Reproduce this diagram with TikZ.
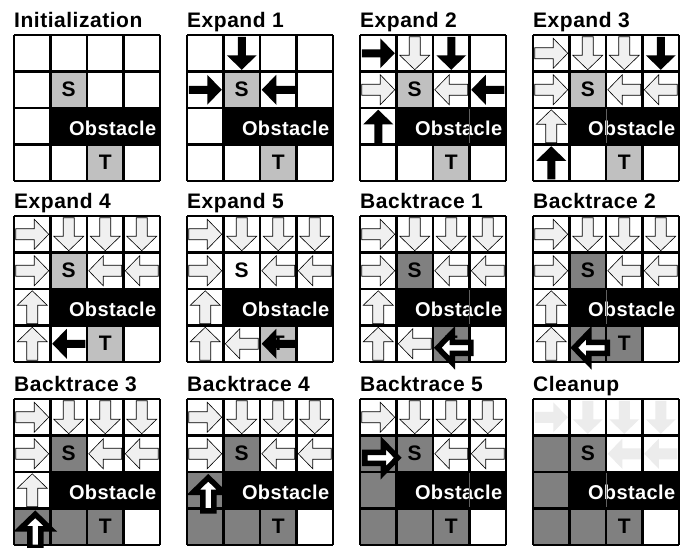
\documentclass[tikz,border=0pt]{standalone}
\usepackage{fontspec}
\setmainfont{Liberation Sans}
\newfontfamily\GTitleFont[LetterSpace=2.5]{Liberation Sans}
\newfontfamily\GObsFont[LetterSpace=2]{Liberation Sans}
\definecolor{lgray}{HTML}{C0C0C0}
\definecolor{dgray}{HTML}{808080}
\definecolor{afill}{HTML}{F0F0F0}
\definecolor{fadefill}{HTML}{ECECEC}
\definecolor{seamgray}{HTML}{606060}
\def\GSz{36.5}
\tikzset{
  gridline/.style={draw=black, line width=2.5pt},
  lightarr/.style={fill=afill, draw=black, line width=0.6pt, line join=miter},
  blackarr/.style={fill=black},
  boldarr/.style={shift={(3,4)}, fill=white, draw=black, line width=5.5pt, line join=miter},
  fadearr/.style={fill=fadefill},
  titletext/.style={anchor=base west, inner sep=0pt, font={\GTitleFont\bfseries\fontsize{21}{25}\selectfont}},
  celltext/.style={inner sep=0pt, font={\bfseries\fontsize{21}{25}\selectfont}},
  obstext/.style={anchor=base east, inner sep=0pt, text=white, font={\GObsFont\bfseries\fontsize{20}{24}\selectfont}}
}
% fill a cell: row, column, colour
\newcommand\GFill[3]{\fill[#3] ({(#2-1)*\GSz},{(#1-1)*\GSz}) rectangle ++(\GSz,\GSz);}
% outlined / light arrow in a cell: row, column, angle, style
\newcommand\GArr[4]{\path[#4,shift={({(#2-0.5)*\GSz},{(#1-0.5)*\GSz})},rotate=#3]
  (-16.5,-5.5) -- (2,-5.5) -- (2,-15) -- (16.5,0) -- (2,15) -- (2,5.5) -- (-16.5,5.5) -- cycle;}
% solid black arrow (thinner shaft): row, column, angle
\newcommand\GArrK[3]{\path[blackarr,shift={({(#2-0.5)*\GSz},{(#1-0.5)*\GSz})},rotate=#3]
  (-16.5,-4) -- (2,-4) -- (2,-15) -- (16.5,0) -- (2,15) -- (2,4) -- (-16.5,4) -- cycle;}
\newcommand\GTopRow[1]{\GArr{1}{1}{0}{#1}\GArr{1}{2}{-90}{#1}\GArr{1}{3}{-90}{#1}\GArr{1}{4}{-90}{#1}}
\newcommand\GRowTwo[1]{\GArr{2}{1}{0}{#1}\GArr{2}{3}{180}{#1}\GArr{2}{4}{180}{#1}}
\newcommand\GSeam[1]{\draw[seamgray, line width=0.6pt] ({#1*\GSz},{2*\GSz+1.3}) -- ({#1*\GSz},{3*\GSz-1.3});}
% panel: x0, y0, id, title, fills, arrows, post
\newcommand\GPanel[7]{%
\begin{scope}[shift={(#1,#2)}]
  \node[titletext] (#3-title) at (0,-8) {#4};
  \fill[white] (0,0) rectangle ({4*\GSz},{4*\GSz});
  #5
  \node[celltext] (#3-S) at ({1.5*\GSz},{1.5*\GSz}) {S};
  \node[celltext] (#3-T) at ({2.5*\GSz},{3.5*\GSz}) {T};
  #6
  \foreach \i in {0,1,2,3,4} {
    \draw[gridline] ({\i*\GSz},0) -- ({\i*\GSz},{4*\GSz});
    \draw[gridline] (0,{\i*\GSz}) -- ({4*\GSz},{\i*\GSz});
  }
  \fill[black] ({\GSz},{2*\GSz}) rectangle ({4*\GSz},{3*\GSz});
  \node[obstext] (#3-obs) at ({4*\GSz-3.5},{2.5*\GSz+9}) {Obstacle};
  #7
\end{scope}}
\begin{document}
\begin{tikzpicture}[x=1pt,y=-1pt]
\useasboundingbox (0,0) rectangle (686,547);
% Row 1
\GPanel{14}{35}{p1}{Initialization}{\GFill{2}{2}{lgray}\GFill{4}{3}{lgray}}{}{}
\GPanel{187}{35}{p2}{Expand 1}{\GFill{2}{2}{lgray}\GFill{4}{3}{lgray}}
  {\GArrK{1}{2}{-90}\GArrK{2}{1}{0}\GArrK{2}{3}{180}}{}
\GPanel{360}{35}{p3}{Expand 2}{\GFill{2}{2}{lgray}\GFill{4}{3}{lgray}}
  {\GArr{1}{2}{-90}{lightarr}\GArr{2}{1}{0}{lightarr}\GArr{2}{3}{180}{lightarr}
   \GArrK{1}{1}{0}\GArrK{1}{3}{-90}\GArrK{2}{4}{180}\GArrK{3}{1}{90}}
  {\GSeam{3}}
\GPanel{533}{35}{p4}{Expand 3}{\GFill{2}{2}{lgray}\GFill{4}{3}{lgray}}
  {\GArr{1}{1}{0}{lightarr}\GArr{1}{2}{-90}{lightarr}\GArr{1}{3}{-90}{lightarr}
   \GRowTwo{lightarr}\GArr{3}{1}{90}{lightarr}
   \GArrK{1}{4}{-90}\GArrK{4}{1}{90}}
  {\GSeam{2}}
% Row 2
\GPanel{14}{216}{p5}{Expand 4}{\GFill{2}{2}{lgray}\GFill{4}{3}{lgray}}
  {\GTopRow{lightarr}\GRowTwo{lightarr}\GArr{3}{1}{90}{lightarr}\GArr{4}{1}{90}{lightarr}
   \GArrK{4}{2}{180}}{}
\GPanel{187}{216}{p6}{Expand 5}{\GFill{4}{3}{lgray}}
  {\GTopRow{lightarr}\GRowTwo{lightarr}\GArr{3}{1}{90}{lightarr}\GArr{4}{1}{90}{lightarr}
   \GArr{4}{2}{180}{lightarr}\GArrK{4}{3}{180}}{}
\GPanel{360}{216}{p7}{Backtrace 1}{\GFill{2}{2}{dgray}\GFill{4}{3}{dgray}}
  {\GTopRow{lightarr}\GRowTwo{lightarr}\GArr{3}{1}{90}{lightarr}\GArr{4}{1}{90}{lightarr}
   \GArr{4}{2}{180}{lightarr}}
  {\GSeam{3}\GArr{4}{3}{180}{boldarr}}
\GPanel{533}{216}{p8}{Backtrace 2}{\GFill{2}{2}{dgray}\GFill{4}{3}{dgray}\GFill{4}{2}{dgray}}
  {\GTopRow{lightarr}\GRowTwo{lightarr}\GArr{3}{1}{90}{lightarr}\GArr{4}{1}{90}{lightarr}}
  {\GSeam{2}\GArr{4}{2}{180}{boldarr}}
% Row 3
\GPanel{14}{399}{p9}{Backtrace 3}{\GFill{2}{2}{dgray}\GFill{4}{3}{dgray}\GFill{4}{2}{dgray}\GFill{4}{1}{dgray}}
  {\GTopRow{lightarr}\GRowTwo{lightarr}\GArr{3}{1}{90}{lightarr}}
  {\GArr{4}{1}{90}{boldarr}}
\GPanel{187}{399}{p10}{Backtrace 4}{\GFill{2}{2}{dgray}\GFill{4}{3}{dgray}\GFill{4}{2}{dgray}\GFill{4}{1}{dgray}\GFill{3}{1}{dgray}}
  {\GTopRow{lightarr}\GRowTwo{lightarr}}
  {\GArr{3}{1}{90}{boldarr}}
\GPanel{360}{399}{p11}{Backtrace 5}{\GFill{2}{2}{dgray}\GFill{4}{3}{dgray}\GFill{4}{2}{dgray}\GFill{4}{1}{dgray}\GFill{3}{1}{dgray}\GFill{2}{1}{dgray}}
  {\GTopRow{lightarr}\GArr{2}{3}{180}{lightarr}\GArr{2}{4}{180}{lightarr}}
  {\GSeam{3}\GArr{2}{1}{0}{boldarr}}
\GPanel{533}{399}{p12}{Cleanup}{\GFill{2}{2}{dgray}\GFill{4}{3}{dgray}\GFill{4}{2}{dgray}\GFill{4}{1}{dgray}\GFill{3}{1}{dgray}\GFill{2}{1}{dgray}}
  {\GTopRow{fadearr}\GArr{2}{3}{180}{fadearr}\GArr{2}{4}{180}{fadearr}}
  {\GSeam{2}}
\end{tikzpicture}
\end{document}
